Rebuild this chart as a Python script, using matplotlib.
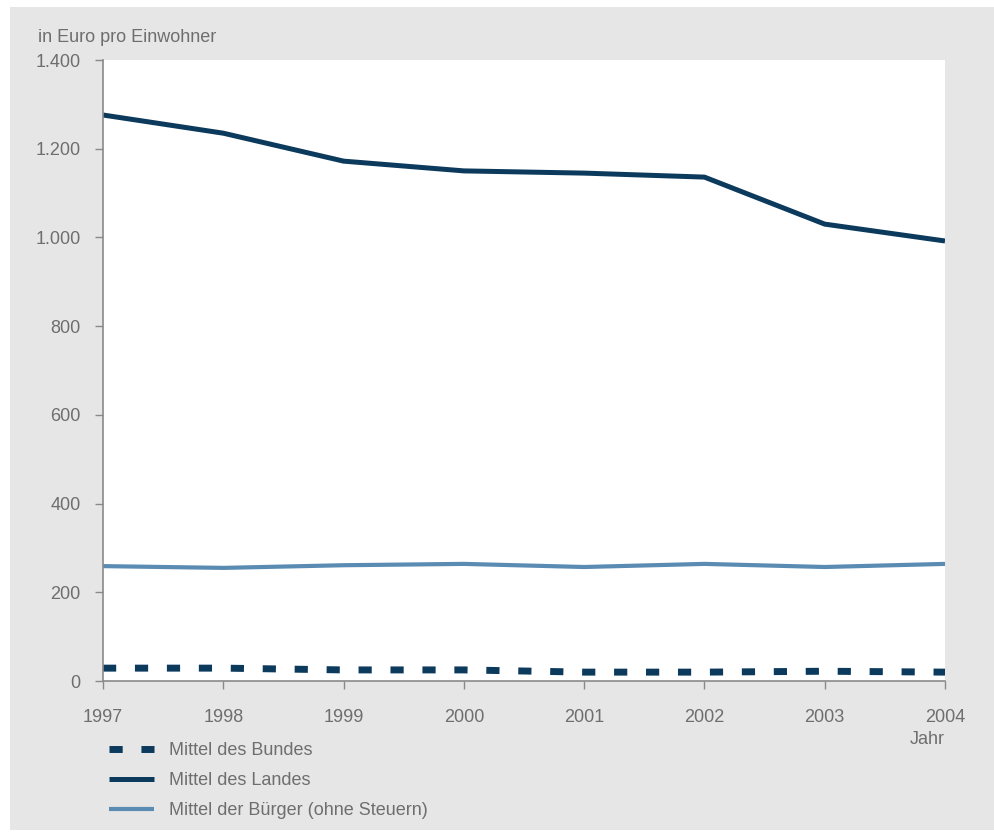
import matplotlib
matplotlib.use("Agg")
import matplotlib.pyplot as plt
from matplotlib.patches import Rectangle

# data
jahre = [1997, 1998, 1999, 2000, 2001, 2002, 2003, 2004]
bund = [29, 29, 25, 25, 20, 20, 22, 20]
land = [1276, 1235, 1172, 1150, 1145, 1136, 1030, 992]
buerger = [259, 255, 261, 264, 257, 264, 257, 264]
y_ticks = [0, 200, 400, 600, 800, 1000, 1200, 1400]
y_labels = ["0", "200", "400", "600", "800", "1.000", "1.200", "1.400"]

plt.rcParams['font.family'] = ['Liberation Sans', 'DejaVu Sans']
txt = '#6e6e6e'
dunkel = '#0c3a5c'
hell = '#5a8bb3'

fig = plt.figure(figsize=(9.95, 8.33), dpi=100)
fig.patch.set_facecolor('white')
fig.patches.append(Rectangle((10 / 995, 3 / 833), 985 / 995, 823 / 833,
                             transform=fig.transFigure, facecolor='#e6e6e6',
                             edgecolor='none', zorder=-10))

ax = fig.add_axes([103 / 995, 1 - 681 / 833, 842 / 995, 621 / 833])
ax.set_facecolor('white')

ax.plot(jahre, bund, color=dunkel, lw=5, dashes=(1.9, 2.7),
        dash_capstyle='butt', label='Mittel des Bundes', clip_on=False)
ax.plot(jahre, land, color=dunkel, lw=3.6, solid_joinstyle='round',
        solid_capstyle='butt', label='Mittel des Landes')
ax.plot(jahre, buerger, color=hell, lw=3, solid_joinstyle='round',
        solid_capstyle='butt', label='Mittel der Bürger (ohne Steuern)')

ax.set_xlim(1997, 2004)
ax.set_ylim(0, 1400)
ax.set_xticks(jahre)
ax.set_xticklabels([str(j) for j in jahre])
ax.set_yticks(y_ticks)
ax.set_yticklabels(y_labels)

for s in ['top', 'right']:
    ax.spines[s].set_visible(False)
for s in ['left', 'bottom']:
    ax.spines[s].set_color('#8a8a8a')
    ax.spines[s].set_linewidth(1.2)

ax.tick_params(axis='both', colors='#8a8a8a', labelcolor=txt, labelsize=13,
               direction='out', length=6, width=1)
ax.tick_params(axis='x', pad=14)
ax.tick_params(axis='y', pad=10)

fig.text(38 / 995, 1 - 37 / 833, 'in Euro pro Einwohner', color=txt,
         fontsize=13, va='center', ha='left')
fig.text(945 / 995, 1 - 740 / 833, 'Jahr', color=txt, fontsize=13,
         va='center', ha='right')

ax.legend(loc='upper left', bbox_to_anchor=(109 / 995, 1 - 742 / 833),
          bbox_transform=fig.transFigure, frameon=False, fontsize=13,
          handlelength=2.5, handletextpad=0.85, labelspacing=0.72,
          labelcolor=txt, borderaxespad=0, borderpad=0)

fig.savefig('out.png', dpi=100, facecolor=fig.get_facecolor())
